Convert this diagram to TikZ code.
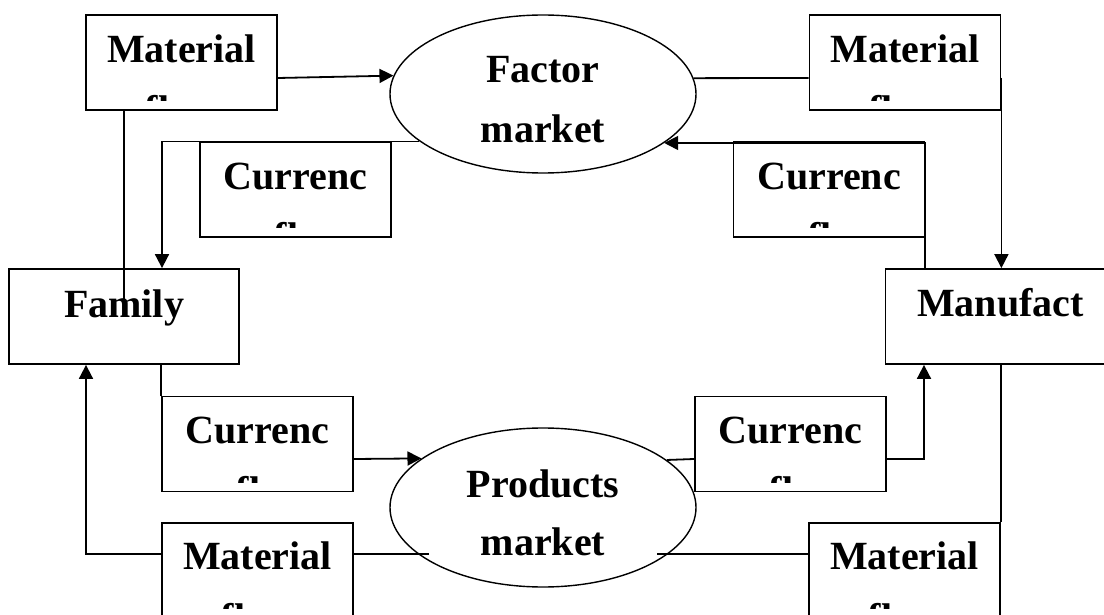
\documentclass[tikz,border=0pt]{standalone}
\usepackage{fontspec}
\setmainfont{Liberation Serif}
\usetikzlibrary{shapes.geometric,arrows.meta}
\newcommand\cutline[2]{%
  \begin{scope}
    \clip ([xshift=1pt]#1.north west) rectangle ([yshift=10pt,xshift=-1pt]#1.south east);
    \node[txt] (#1f) at ([yshift=-109pt]#1.north) {#2};
  \end{scope}}
\begin{document}
\begin{tikzpicture}[x=1pt,y=-1pt,
  box/.style={draw,line width=1.8pt,fill=white,inner sep=0pt,minimum width=191pt,minimum height=95pt},
  oval/.style={draw,ellipse,line width=1.4pt,fill=white,inner sep=0pt,minimum width=306pt,minimum height=158pt},
  txt/.style={font=\fontsize{40}{48}\selectfont\bfseries,inner sep=0pt,anchor=base},
  ln/.style={line width=1.8pt},
  arr/.style={ln,-{Triangle[length=14pt,width=14pt]}}]
\useasboundingbox (0,0) rectangle (1104,615);
\clip (0,0) rectangle (1104,615);

% boxes and ovals
\node[box] (M1) at (181.5,62.5) {};
\node[box] (M2) at (905,62.5) {};
\node[box] (C1) at (295.5,189.5) {};
\node[box] (C2) at (829,189.5) {};
\node[box,minimum width=230pt] (Fam) at (124,316.5) {};
\node[box,minimum width=230pt] (Man) at (1000.5,316.5) {};
\node[box] (C3) at (257.5,444) {};
\node[box] (C4) at (790.5,444) {};
\node[box] (M3) at (257.5,570.5) {};
\node[box] (M4) at (904.5,570.5) {};
\node[oval] (FM) at (543,94) {};
\node[oval,minimum height=159pt] (PM) at (543,507.5) {};

% texts
\node[txt] (M1t) at ([yshift=-48pt]M1.north) {Material};
\node[txt] (M2t) at ([yshift=-48pt]M2.north) {Material};
\node[txt] (C1t) at ([yshift=-48pt]C1.north) {Currenc};
\node[txt] (C2t) at ([yshift=-48pt]C2.north) {Currenc};
\node[txt] (Famt) at ([yshift=-49pt]Fam.north) {Family};
\node[txt] (Mant) at ([yshift=-48pt]Man.north) {Manufact};
\node[txt] (C3t) at ([yshift=-48pt]C3.north) {Currenc};
\node[txt] (C4t) at ([yshift=-48pt]C4.north) {Currenc};
\node[txt] (M3t) at ([yshift=-47pt]M3.north) {Material};
\node[txt] (M4t) at ([yshift=-47pt]M4.north) {Material};
\node[txt] (FMa) at (543,83) {Factor};
\node[txt] (FMb) at (543,143) {market};
\node[txt] (PMa) at (543,497) {Products};
\node[txt] (PMb) at (543,555) {market};
\cutline{M1}{flow}
\cutline{M2}{flow}
\cutline{C1}{y flow}
\cutline{C2}{y flow}
\cutline{C3}{y flow}
\cutline{C4}{y flow}
\cutline{M3}{flow}
\cutline{M4}{flow}

% connectors
\coordinate (famIn) at (124,302);
\coordinate (pmL) at (429,554);
\coordinate (pmR) at (657,554);
\draw[arr] (M1.east |- 0,78) -- (FM.173.9);
\draw[ln] (FM.6.1) -- (M2.west |- 0,78);
\draw[arr] (M2.east |- 0,78) -- (M2.east |- Man.north);
\draw[ln] (M1.south -| famIn) -- (famIn);
\draw[arr] (FM.201.56) -| (Fam.north -| 162,0);
\draw[arr] (Man.north -| 925,0) |- (FM.338.44);
\draw[ln] (Fam.south -| C3.west) -- (C3.north west);
\draw[arr] (C3.east |- 0,459) -- (PM.158.2);
\draw[ln] (PM.21.8) -- (C4.west |- 0,459);
\draw[arr] (C4.east |- 0,459) -| (Man.south -| 924,0);
\draw[ln] (pmL) -- (M3.east |- pmL);
\draw[arr] (M3.west |- pmL) -| (Fam.south -| 86,0);
\draw[ln] (Man.south -| M4.east) -- (M4.north east);
\draw[ln] (M4.west |- pmR) -- (pmR);
\end{tikzpicture}
\end{document}
